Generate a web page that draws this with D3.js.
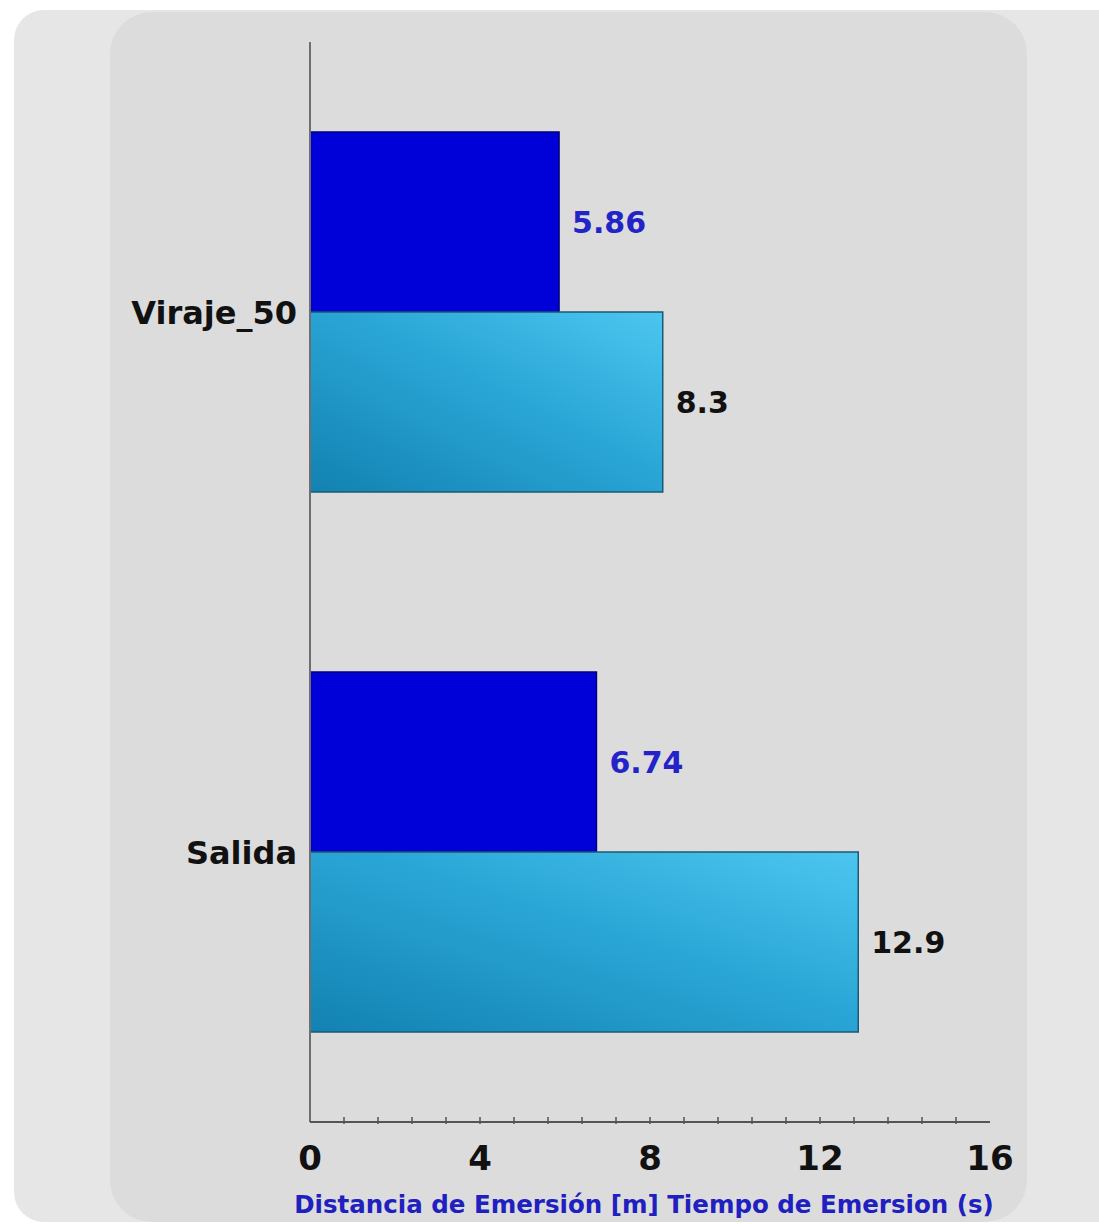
<!DOCTYPE html>
<html>
<head>
<meta charset="utf-8">
<script src="https://cdn.jsdelivr.net/npm/d3@7"></script>
<style>
  html, body { margin: 0; padding: 0; background: #ffffff; }
  svg { display: block; }
</style>
</head>
<body>
<svg id="chart" width="1099" height="1224"></svg>
<script>
// ---- data ----
const categories = ["Viraje_50", "Salida"];
const seriesNames = ["Distancia de Emersión [m]", "Tiempo de Emersion (s)"];
const distanciaValues = [5.86, 6.74];
const tiempoValues = [8.3, 12.9];
const tickValues = [0, 4, 8, 12, 16];
const axisTitle = "Distancia de Emersión [m] Tiempo de Emersion (s)";

const svg = d3.select("#chart");
const FONT = "'DejaVu Sans', 'Open Sans', sans-serif";

// backgrounds
svg.append("rect").attr("x", 14).attr("y", 10).attr("width", 1140).attr("height", 1212)
  .attr("rx", 30).attr("ry", 30).attr("fill", "#e6e6e6");
svg.append("rect").attr("x", 110).attr("y", 12).attr("width", 917).attr("height", 1210)
  .attr("rx", 42).attr("ry", 42).attr("fill", "#dcdcdc");

const defs = svg.append("defs");
const grad = defs.append("linearGradient").attr("id", "lightGrad")
  .attr("x1", "0%").attr("y1", "100%").attr("x2", "100%").attr("y2", "0%");
grad.append("stop").attr("offset", "0%").attr("stop-color", "#1282b2");
grad.append("stop").attr("offset", "55%").attr("stop-color", "#2aa6d6");
grad.append("stop").attr("offset", "100%").attr("stop-color", "#4cc6f0");

const x0 = 310, x1 = 990, yTop = 42, yBot = 1122;
const x = d3.scaleLinear().domain([0, 16]).range([x0, x1]);
const y = d3.scaleBand().domain(categories).range([yTop, yBot]).paddingInner(0).paddingOuter(0);
const sub = d3.scaleBand().domain(seriesNames).range([0, y.bandwidth()]).paddingInner(0).paddingOuter(0.5);

const rows = categories.map((c, i) => ({ cat: c, vals: [distanciaValues[i], tiempoValues[i]] }));

const g = svg.append("g");
const groups = g.selectAll("g.cat").data(rows).join("g").attr("class", "cat")
  .attr("transform", d => `translate(0,${y(d.cat)})`);

groups.selectAll("rect").data(d => d.vals.map((v, j) => ({ v, s: seriesNames[j], j })))
  .join("rect")
  .attr("x", x(0))
  .attr("y", d => sub(d.s))
  .attr("width", d => x(d.v) - x(0))
  .attr("height", sub.bandwidth())
  .attr("fill", d => d.j === 0 ? "#0000d8" : "url(#lightGrad)")
  .attr("stroke", d => d.j === 0 ? "#00007a" : "#1b5a72")
  .attr("stroke-width", 1.5);

groups.selectAll("text.val").data(d => d.vals.map((v, j) => ({ v, s: seriesNames[j], j })))
  .join("text").attr("class", "val")
  .attr("x", d => x(d.v) + 13)
  .attr("y", d => sub(d.s) + sub.bandwidth() / 2)
  .attr("dy", "0.36em")
  .attr("font-family", FONT).attr("font-weight", "bold").attr("font-size", 30)
  .attr("fill", d => d.j === 0 ? "#2323c8" : "#111111")
  .text(d => d.v);

// category labels
g.selectAll("text.cat").data(categories).join("text").attr("class", "cat")
  .attr("x", 297).attr("y", d => y(d) + y.bandwidth() / 2)
  .attr("dy", "0.36em").attr("text-anchor", "end")
  .attr("font-family", FONT).attr("font-weight", "bold").attr("font-size", 32)
  .attr("fill", "#111").text(d => d);

// axes lines
g.append("line").attr("x1", x0).attr("x2", x0).attr("y1", yTop).attr("y2", yBot)
  .attr("stroke", "#6e6e6e").attr("stroke-width", 2);
g.append("line").attr("x1", x0).attr("x2", x1).attr("y1", yBot).attr("y2", yBot)
  .attr("stroke", "#555").attr("stroke-width", 2);

// minor ticks
const minor = d3.range(0, 16.001, 0.8).filter(v => v > 0 && v < 16);
g.selectAll("line.minor").data(minor).join("line").attr("class", "minor")
  .attr("x1", d => x(d)).attr("x2", d => x(d))
  .attr("y1", yBot - 5).attr("y2", yBot + 2)
  .attr("stroke", "#555").attr("stroke-width", 1.5);

// tick labels
g.selectAll("text.tick").data(tickValues).join("text").attr("class", "tick")
  .attr("x", d => x(d)).attr("y", 1170)
  .attr("text-anchor", "middle")
  .attr("font-family", FONT).attr("font-weight", "bold").attr("font-size", 34)
  .attr("fill", "#111").text(d => d);

// axis title
g.append("text").attr("x", 644).attr("y", 1213).attr("text-anchor", "middle")
  .attr("font-family", FONT).attr("font-weight", "bold").attr("font-size", 24.5)
  .attr("fill", "#2020c0").text(axisTitle);
</script>
</body>
</html>
